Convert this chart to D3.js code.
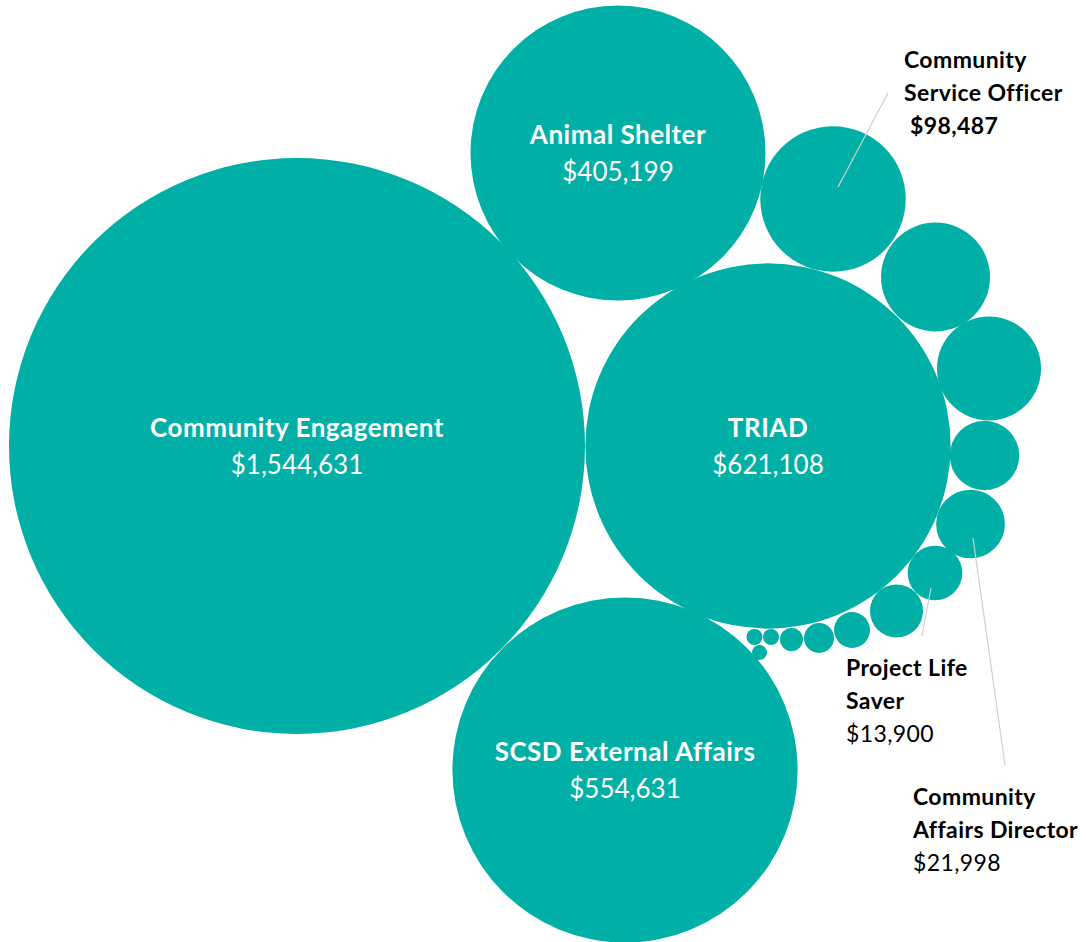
<!DOCTYPE html>
<html>
<head>
<meta charset="utf-8">
<script src="https://cdn.jsdelivr.net/npm/d3@7"></script>
<style>
  html, body { margin: 0; padding: 0; background: #ffffff; }
  svg { display: block; }
</style>
</head>
<body>
<svg id="chart" width="1086" height="942"></svg>
<script>
// ---- Data ----
const names = [
  "Community Engagement", "Animal Shelter", "TRIAD", "SCSD External Affairs",
  "Community Service Officer", "Unit F", "Unit G", "Unit H",
  "Community Affairs Director", "Project Life Saver", "Unit K", "Unit L",
  "Unit M", "Unit N", "Unit O", "Unit P", "Unit Q"
];
const values = [
  1544631, 405199, 621108, 554631,
  98487, 55300, 50400, 22500,
  21998, 13900, 13100, 6000,
  4200, 2460, 1190, 1190, 1050
];
// bubble x / y positions (chart units)
const xValues = [
  29.7, 61.8, 76.8, 62.5,
  83.3, 93.55, 98.9, 98.45,
  97.05, 93.5, 89.65, 85.2,
  81.9, 79.15, 77.1, 75.45, 75.95
];
const yValues = [
  49.6, 78.9, 49.6, 17.2,
  74.3, 66.5, 57.35, 48.65,
  41.8, 36.9, 33.1, 31.2,
  30.4, 30.25, 30.5, 30.5, 28.95
];
// which bubbles carry an inside label
const insideLabels = ["Community Engagement", "Animal Shelter", "TRIAD", "SCSD External Affairs"];

// ---- Layout ----
const W = 1086, H = 942;
const x = d3.scaleLinear().domain([0, 108.6]).range([0, W]);
const y = d3.scaleLinear().domain([0, 94.2]).range([H, 0]);
const r = d3.scaleSqrt().domain([0, d3.max(values)]).range([0, 288]);
const fmt = v => "$" + d3.format(",")(v);
const teal = "#00b0a6";
const FONT = "Lato, 'Open Sans', sans-serif";

const data = names.map((n, i) => ({ name: n, value: values[i], x: xValues[i], y: yValues[i] }));

const svg = d3.select("#chart");

svg.append("g").selectAll("circle")
  .data(data)
  .join("circle")
  .attr("cx", d => x(d.x))
  .attr("cy", d => y(d.y))
  .attr("r", d => r(d.value))
  .attr("fill", teal);

// inside labels
const inside = svg.append("g").selectAll("g")
  .data(data.filter(d => insideLabels.includes(d.name)))
  .join("g")
  .attr("transform", d => `translate(${x(d.x)},${y(d.y)})`)
  .attr("font-family", FONT)
  .attr("fill", "#ffffff")
  .attr("text-anchor", "middle");
inside.append("text")
  .attr("y", -9)
  .attr("font-size", 26)
  .attr("font-weight", 700)
  .attr("letter-spacing", 0.5)
  .text(d => d.name);
inside.append("text")
  .attr("y", 28)
  .attr("font-size", 26)
  .attr("font-weight", 400)
  .text(d => fmt(d.value));

// callout labels
const callouts = [
  { name: "Community Service Officer", lines: ["Community", "Service Officer"], valuePrefix: " ", valueBold: true,
    from: [838, 187], to: [888, 93], tx: 904, ty: 68 },
  { name: "Project Life Saver", lines: ["Project Life", "Saver"], valuePrefix: "", valueBold: false,
    from: [931, 588], to: [922, 636], tx: 846, ty: 676 },
  { name: "Community Affairs Director", lines: ["Community", "Affairs Director"], valuePrefix: "", valueBold: false,
    from: [973, 538], to: [1005, 765], tx: 913, ty: 805 }
];
const cg = svg.append("g");
callouts.forEach(c => {
  const d = data.find(e => e.name === c.name);
  cg.append("line")
    .attr("x1", c.from[0]).attr("y1", c.from[1])
    .attr("x2", c.to[0]).attr("y2", c.to[1])
    .attr("stroke", "#cfcfcf").attr("stroke-width", 1.2);
  const t = cg.append("text")
    .attr("font-family", FONT)
    .attr("font-size", 23)
    .attr("letter-spacing", 0.4)
    .attr("fill", "#000000");
  c.lines.forEach((ln, i) => {
    t.append("tspan").attr("x", c.tx).attr("y", c.ty + i * 33)
      .attr("font-weight", 700).text(ln);
  });
  t.append("tspan").attr("x", c.tx).attr("y", c.ty + c.lines.length * 33)
    .attr("font-weight", c.valueBold ? 700 : 400)
    .attr("xml:space", "preserve")
    .style("white-space", "pre")
    .text(c.valuePrefix + fmt(d.value));
});
</script>
</body>
</html>
